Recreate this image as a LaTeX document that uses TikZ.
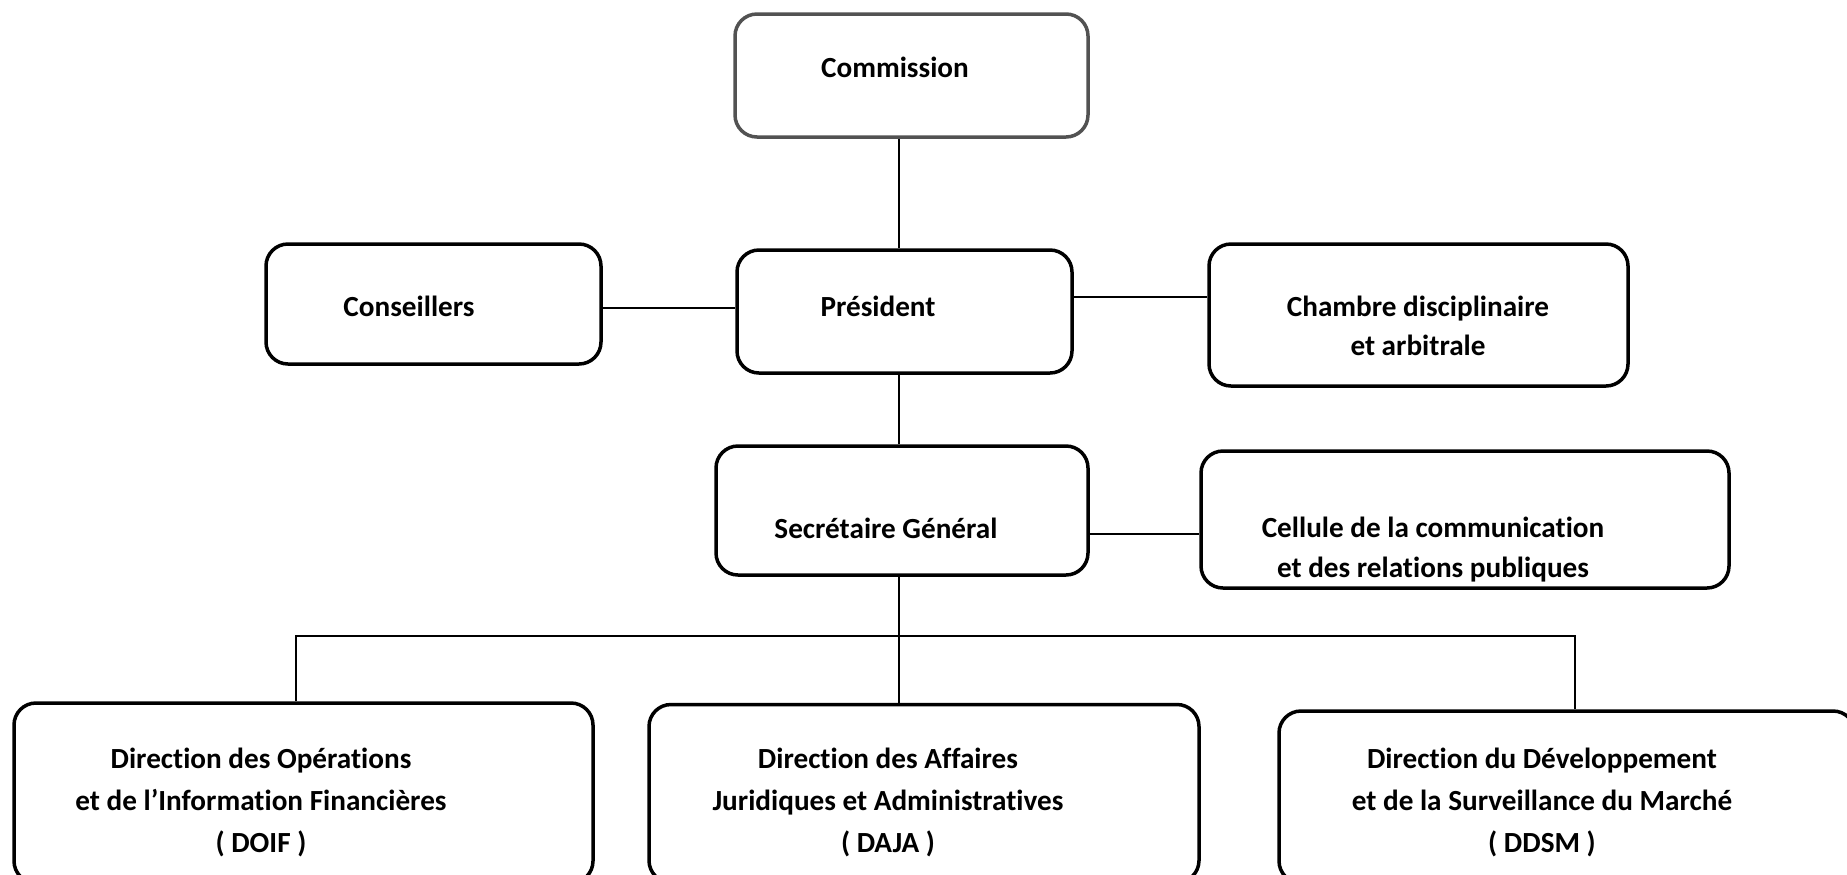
\documentclass[tikz,border=0pt]{standalone}
\usepackage{fontspec}
\setmainfont{Carlito}[Ligatures={NoCommon}]
\begin{document}
\begin{tikzpicture}[x=0.5pt,y=-0.5pt,
  box/.style={draw=black,line width=1.75pt,rounded corners=11pt,rectangle,inner sep=0pt,fill=none},
  greybox/.style={box,draw=black!68},
  lbl/.style={font=\fontsize{14.6}{21}\selectfont\bfseries,inner sep=0pt,align=center},
  link/.style={line width=0.75pt,draw=black}]
\useasboundingbox (0,0) rectangle (1847,874);
\clip (0,0) rectangle (1847,874);
% boxes
\node[greybox,minimum width=176.5pt,minimum height=61.5pt] (comm) at (911.5,75.5) {};
\node[box,minimum width=167.5pt,minimum height=60pt] (cons) at (433.5,304) {};
\node[box,minimum width=167.5pt,minimum height=61.5pt] (pres) at (904.5,311.5) {};
\node[box,minimum width=209.5pt,minimum height=71pt] (cham) at (1418.5,315) {};
\node[box,minimum width=186pt,minimum height=64.5pt] (sg) at (902,510.5) {};
\node[box,minimum width=264pt,minimum height=68.5pt] (cell) at (1465,519.5) {};
\node[box,minimum width=289.5pt,minimum height=90pt] (doif) at (303.5,793) {};
\node[box,minimum width=275pt,minimum height=89pt] (daja) at (924,793.5) {};
\node[box,minimum width=288pt,minimum height=86pt] (ddsm) at (1567,797) {};
% texts
\node[lbl] (commT) at (895,67) {Commission};
\node[lbl] (consT) at (409,306) {Conseillers};
\node[lbl] (presT) at (878,306) {Président};
\node[lbl,font=\fontsize{14.6}{19.5}\selectfont\bfseries] (chamT) at (1418,326) {Chambre disciplinaire\\ et arbitrale};
\node[lbl] (sgT) at (886,528) {Secrétaire Général};
\node[lbl,font=\fontsize{14.6}{20}\selectfont\bfseries] (cellT) at (1433,550) {Cellule de la communication\\ et des relations publiques};
\node[lbl] (doifT) at (261,802) {Direction des Opérations\\ et de l’Information Financières\\ ( DOIF )};
\node[lbl] (dajaT) at (888,802) {Direction des Affaires\\ Juridiques et Administratives\\ ( DAJA )};
\node[lbl] (ddsmT) at (1542,802) {Direction du Développement\\ et de la Surveillance du Marché\\ ( DDSM )};
% connectors
\coordinate (trunk) at (899,0);
\coordinate (busL) at (296,636);
\coordinate (busR) at (1575,636);
\draw[link] (comm.south -| trunk) -- (pres.north -| trunk);
\draw[link] (pres.south -| trunk) -- (sg.north -| trunk);
\draw[link] (sg.south -| trunk) -- (daja.north -| trunk);
\draw[link] (cons.east |- 0,308) -- (pres.west |- 0,308);
\draw[link] (pres.east |- 0,297) -- (cham.west |- 0,297);
\draw[link] (sg.east |- 0,534) -- (cell.west |- 0,534);
\draw[link] (doif.north -| busL) -- (busL) -- (busR) -- (ddsm.north -| busR);
\end{tikzpicture}
\end{document}
